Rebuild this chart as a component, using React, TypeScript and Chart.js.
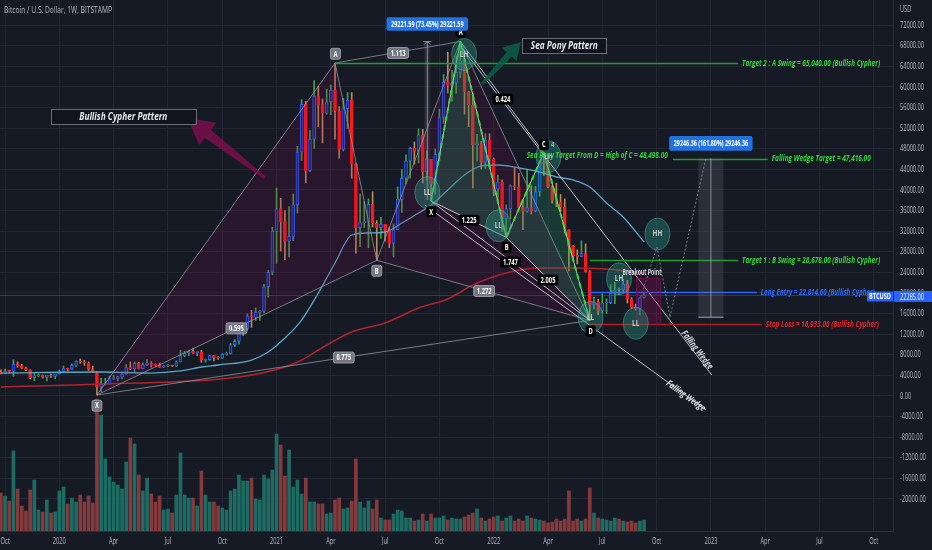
import { useEffect, useRef } from 'react';
import { Chart, registerables } from 'chart.js';

Chart.register(...registerables);

// ---------------- data (weekly candles, first week starts 2019-09-30) ----------------
const firstWeekStart = '2019-09-30';
const opens = [
  8050, 7870, 8280, 8220, 9550, 9200, 8800, 8500, 7050, 7400,
  7500, 7100, 7500, 7300, 7750, 8180, 8700, 8600, 9300, 10100,
  9900, 9700, 8550, 8050, 5350, 5850, 5900, 6900, 6920, 7150,
  7700, 8900, 8700, 9700, 8720, 9450, 9700, 9350, 9300, 9000,
  9250, 9300, 9150, 9950, 11100, 11600, 11850, 11650, 11700, 10250,
  10350, 11100, 10750, 10650, 11350, 11500, 13150, 13750, 15500, 16100,
  18400, 18200, 19100, 19250, 23800, 26450, 34000, 38200, 35800, 32200,
  33100, 38900, 48600, 57400, 45200, 51000, 59000, 57400, 55800, 57900,
  60000, 56200, 49100, 56600, 58200, 46400, 34700, 35600, 35800, 39000,
  35500, 34700, 35300, 34200, 31800, 34300, 39900, 43800, 47000, 49300,
  48800, 51800, 45000, 47300, 42800, 48200, 55000, 61500, 60900, 61300,
  63300, 65500, 59700, 57300, 50000, 50100, 46700, 50800, 47300, 41800,
  43100, 36300, 38200, 42400, 42200, 38400, 37700, 38400, 37800, 41300,
  46800, 46400, 42200, 39700, 39400, 38500, 34300, 31300, 29500, 29400,
  29900, 26600, 20500, 21000, 19300, 20800, 20850, 22600, 23300, 23200,
  24300, 21500, 20000, 19800, 21800,
];
const highs = [
  8500, 8650, 8420, 10350, 9950, 9500, 9000, 8500, 7800, 7750,
  7550, 7450, 7700, 7500, 8450, 9200, 8800, 9600, 10150, 10500,
  10250, 9950, 9200, 8200, 6950, 6950, 7300, 7450, 7300, 7800,
  9450, 9950, 9950, 9850, 9800, 10400, 10000, 9600, 9750, 9300,
  9450, 9350, 10150, 12100, 11900, 12100, 12500, 11800, 12100, 10500,
  11150, 11150, 10950, 11500, 11750, 13350, 14050, 15950, 16500, 18800,
  19450, 19900, 19400, 24250, 26800, 34750, 42000, 40100, 37850, 38600,
  40900, 49700, 58300, 58000, 52600, 61800, 60700, 58400, 60200, 61000,
  65040, 57000, 58500, 59600, 59600, 46500, 40900, 39500, 40000, 41300,
  36000, 36600, 35300, 34700, 35400, 42200, 45400, 48100, 49500, 50500,
  52900, 52800, 48800, 47300, 49200, 56500, 62900, 67000, 63700, 66300,
  69000, 66300, 59800, 59400, 51900, 50600, 52000, 52000, 47500, 44400,
  43500, 38900, 42600, 45800, 44700, 39800, 45400, 42400, 42300, 47000,
  48498, 47200, 42400, 42900, 40800, 40000, 34300, 31400, 30600, 32300,
  31700, 26800, 21900, 21500, 22500, 21600, 24200, 24600, 23600, 25200,
  25000, 21800, 20600, 21800, 22700,
];
const lows = [
  7750, 7850, 7900, 7300, 8950, 8700, 8350, 6800, 6500, 7200,
  6950, 6450, 7100, 6850, 7700, 8100, 8250, 8550, 9100, 9700,
  9300, 8400, 8000, 3850, 4450, 5700, 5850, 6750, 6450, 6800,
  7650, 8500, 8200, 8800, 8650, 9300, 9000, 9200, 8950, 8900,
  9050, 9050, 9100, 9950, 10900, 11100, 11500, 11100, 9900, 9900,
  10250, 10150, 10400, 10550, 11200, 11400, 12800, 13200, 14800, 15800,
  16300, 17600, 17600, 19000, 21900, 26000, 28100, 30400, 28800, 29300,
  32300, 37400, 47100, 43000, 45000, 49300, 53300, 50300, 55600, 55500,
  51000, 47500, 48800, 53000, 43800, 30000, 31200, 34700, 31000, 34800,
  28678, 32700, 32200, 31000, 29300, 34300, 37500, 42800, 43800, 46400,
  46600, 42900, 43400, 39600, 40800, 47000, 53900, 59500, 58000, 59500,
  62300, 55600, 53300, 42000, 47000, 45500, 45600, 45700, 40600, 39600,
  34000, 32900, 36300, 41700, 38000, 34300, 37500, 37200, 37600, 40500,
  44300, 42000, 39200, 38600, 37700, 33700, 26700, 28700, 28000, 29300,
  26500, 17600, 19700, 18600, 19000, 18900, 20700, 20700, 22400, 22700,
  20800, 19800, 19500, 18600, 21700,
];
const closes = [
  7870, 8280, 8220, 9550, 9200, 8800, 8500, 7050, 7400, 7500,
  7100, 7500, 7300, 7750, 8180, 8700, 8600, 9300, 10100, 9900,
  9700, 8550, 8050, 5350, 5850, 5900, 6900, 6920, 7150, 7700,
  8900, 8700, 9700, 8720, 9450, 9700, 9350, 9300, 9000, 9250,
  9300, 9150, 9950, 11100, 11600, 11850, 11650, 11700, 10250, 10350,
  11100, 10750, 10650, 11350, 11500, 13150, 13750, 15500, 16100, 18400,
  18200, 19100, 19250, 23800, 26450, 34000, 38200, 35800, 32200, 33100,
  38900, 48600, 57400, 45200, 51000, 59000, 57400, 55800, 57900, 60000,
  56200, 49100, 56600, 58200, 46400, 34700, 35600, 35800, 39000, 35500,
  34700, 35300, 34200, 31800, 34300, 39900, 43800, 47000, 49300, 48800,
  51800, 45000, 47300, 42800, 48200, 55000, 61500, 60900, 61300, 63300,
  65500, 59700, 57300, 50000, 50100, 46700, 50800, 47300, 41800, 43100,
  36300, 38200, 42400, 42200, 38400, 37700, 38400, 37800, 41300, 46800,
  46400, 42200, 39700, 39400, 38500, 34300, 31300, 29500, 29400, 29900,
  26600, 20500, 21000, 19300, 20800, 20850, 22600, 23300, 23200, 24300,
  21500, 20000, 19800, 21800, 22285,
];
// volume (thousands, read as bar heights)
const volumes = [
  38, 35, 30, 80, 42, 25, 20, 41, 51, 21,
  19, 31, 18, 19, 40, 44, 27, 33, 29, 36,
  29, 35, 28, 132, 116, 72, 54, 49, 46, 42,
  69, 93, 87, 56, 40, 53, 37, 29, 35, 21,
  22, 18, 36, 78, 36, 33, 33, 25, 60, 36,
  29, 29, 25, 23, 21, 40, 42, 56, 50, 50,
  53, 32, 31, 56, 52, 61, 97, 86, 55, 81,
  44, 51, 37, 53, 29, 29, 27, 27, 17, 18,
  31, 33, 22, 23, 30, 72, 29, 23, 30, 22,
  31, 13, 11, 11, 17, 21, 20, 13, 13, 10,
  11, 17, 10, 17, 13, 13, 15, 11, 13, 12,
  12, 14, 16, 18, 22, 13, 10, 12, 14, 15,
  10, 13, 15, 10, 12, 10, 15, 13, 12, 11,
  10, 8, 9, 12, 10, 12, 40, 10, 12, 10,
  12, 43, 18, 13, 12, 11, 10, 13, 12, 10,
  9, 10, 8, 10, 11,
];
// moving averages, read at sparse weeks
const blueMaWeeks = [0, 24, 36, 43, 48, 52, 60, 64, 68, 72, 76, 80, 84, 88, 92, 96, 100, 103, 107, 111, 115, 119, 124, 129, 133, 137, 141, 145, 149, 154];
const blueMaValues = [7900, 8090, 7900, 8280, 9010, 9380, 10300, 11780, 14360, 17670, 22650, 28180, 33340, 33710, 33890, 35550, 37400, 38870, 41640, 44400, 46060, 46240, 45690, 44950, 44030, 43480, 42190, 39240, 36660, 32050];
const redMaWeeks = [0, 24, 57, 68, 72, 76, 84, 92, 100, 107, 113, 121, 129, 137, 145, 154];
const redMaValues = [5330, 5880, 7170, 9010, 10300, 12150, 15460, 17120, 19890, 21550, 24130, 26340, 27260, 27260, 27070, 26340];

// axis ticks
const xTickWeeks = [1, 14, 27, 40, 53, 66, 79, 92, 105, 118, 131, 144, 157, 170, 183, 196, 209];
const xTickLabels = ['Oct', '2020', 'Apr', 'Jul', 'Oct', '2021', 'Apr', 'Jul', 'Oct', '2022', 'Apr', 'Jul', 'Oct', '2023', 'Apr', 'Jul', 'Oct'];
const yTickLabels = ['72000.00', '68000.00', '64000.00', '60000.00', '56000.00', '52000.00', '48000.00', '44000.00', '40000.00', '36000.00', '32000.00', '28000.00', '24000.00', '20000.00', '16000.00', '12000.00', '8000.00', '4000.00', '0.00', '-4000.00', '-8000.00', '-12000.00', '-16000.00', '-20000.00'];
const yTickPrices = [72008, 68212, 64415, 60618, 56821, 53025, 49228, 45431, 41634, 37838, 34041, 30244, 26448, 22651, 18854, 15058, 11261, 7464, 3668, -129, -3925, -7722, -11519, -15315];
const lastPrice = 22285;

// pattern points [week, price]: X, A, B, C, D
const cypherPoints = [[23, 3850], [80, 65040], [90, 28678], [110, 69000], [141, 17600]];
const seaPonyPoints = [[103, 39600], [110, 69000], [121, 32900], [130, 48498], [141, 17600]];
const cypherRatioLabels = [['0.595', 56.4, 16140], ['0.775', 82.1, 10760], ['1.113', 95.1, 66880], ['1.272', 115.7, 23020]];
const cypherPointLabels = [['X', 23.0, 1880], ['A', 80.1, 66730], ['B', 90.0, 26740]];
const seaRatioLabels = [['1.225', 112.1, 36050], ['1.747', 122.0, 28360], ['2.005', 131.0, 25050], ['0.424', 120.2, 58400]];
const seaPointLabels = [['X', 103.0, 37630], ['A', 110.1, 70700], ['B', 121.1, 31040], ['C', 130.0, 49980], ['D', 141.2, 15650]];
const swingCircles = [[102.1, 41170, 'LL'], [110.9, 66610, 'LH'], [119.1, 35040, 'LL'], [131.1, 47770, 'LH'], [141.2, 18140, 'LL'], [148.0, 25270, 'LH'], [152.0, 17070, 'LL'], [157.2, 33520, 'HH']];
const projectionPath = [[153.2, 21910], [157.1, 31130], [160.2, 18230], [168.8, 47520]];
const upperWedge = [[110.4, 67800], [170.2, 7540]];
const lowerWedge = [[101.5, 38870], [168.8, 1090]];
// horizontal levels: price, from week, to week, kind, text
const levelPrices = [65040, 47416, 28678, 22814.6, 16933];
const levelFrom = [80, 160.9, 141, 141, 141];
const levelTo = [176.5, 183.6, 176.5, 181, 182.2];
const levelKinds = ['green', 'green', 'green', 'blue', 'red'];
const levelTexts = [
  'Target 2 : A Swing = 65,040.00 (Bullish Cypher)',
  'Falling Wedge Target = 47,416.00',
  'Target 1 : B Swing = 28,678.00 (Bullish Cypher)',
  'Long Entry = 22,814.60 (Bullish Cypher)',
  'Stop Loss = 16,933.00 (Bullish Cypher)',
];
const levelTextWidths = [138, 99, 138, 114, 113];

// ---------------- styles ----------------
const BG = '#161a25';
const GRID = '#222633';
const AXIS_TEXT = '#b2b5be';
const FONT = '"Open Sans", "DejaVu Sans", sans-serif';
const UP_FILL = '#182a63';
const UP_BORDER = '#2962ff';
const UP_WICK = '#43a047';
const DN_FILL = '#ff1a1a';
const DN_WICK = '#b88a5c';
const VOL_UP = '#1e6b64';
const VOL_DN = '#843a3c';
const LEVEL_LINE = { green: '#1f9e2a', blue: '#2962ff', red: '#b71c1c' };
const LEVEL_TEXT = { green: '#36d43a', blue: '#2f6bff', red: '#e0262a' };

type Ctx = CanvasRenderingContext2D;

function textW(ctx: Ctx, s: string, x: number, y: number, font: string, color: string, width: number | null, align = 'left', sxFixed = 0) {
  ctx.save();
  ctx.font = font;
  const w = ctx.measureText(s).width;
  const sx = sxFixed ? sxFixed : width ? width / w : 1;
  const tw = w * sx;
  let x0 = x;
  if (align === 'center') x0 = x - tw / 2;
  else if (align === 'right') x0 = x - tw;
  ctx.fillStyle = color;
  ctx.textBaseline = 'middle';
  ctx.textAlign = 'left';
  ctx.translate(x0, y);
  ctx.scale(sx, 1);
  ctx.fillText(s, 0, 0);
  ctx.restore();
  return tw;
}

function rrect(ctx: Ctx, x: number, y: number, w: number, h: number, r: number) {
  ctx.beginPath();
  ctx.moveTo(x + r, y);
  ctx.lineTo(x + w - r, y);
  ctx.quadraticCurveTo(x + w, y, x + w, y + r);
  ctx.lineTo(x + w, y + h - r);
  ctx.quadraticCurveTo(x + w, y + h, x + w - r, y + h);
  ctx.lineTo(x + r, y + h);
  ctx.quadraticCurveTo(x, y + h, x, y + h - r);
  ctx.lineTo(x, y + r);
  ctx.quadraticCurveTo(x, y, x + r, y);
  ctx.closePath();
}

function seg(ctx: Ctx, a: number[], b: number[], color: string, width = 1, dash: number[] = []) {
  ctx.save();
  ctx.strokeStyle = color;
  ctx.lineWidth = width;
  ctx.setLineDash(dash);
  ctx.beginPath();
  ctx.moveTo(a[0], a[1]);
  ctx.lineTo(b[0], b[1]);
  ctx.stroke();
  ctx.restore();
}

function poly(ctx: Ctx, pts: number[][], fill: string) {
  ctx.save();
  ctx.fillStyle = fill;
  ctx.beginPath();
  pts.forEach((p, i) => (i ? ctx.lineTo(p[0], p[1]) : ctx.moveTo(p[0], p[1])));
  ctx.closePath();
  ctx.fill();
  ctx.restore();
}

function arrow(ctx: Ctx, t: number[], h: number[], tailW: number, shaftW: number, headW: number, headL: number, color: string) {
  const dx = h[0] - t[0], dy = h[1] - t[1];
  const L = Math.hypot(dx, dy);
  const ux = dx / L, uy = dy / L, nx = -uy, ny = ux;
  const bx = h[0] - ux * headL, by = h[1] - uy * headL;
  poly(ctx, [
    [t[0] + nx * tailW / 2, t[1] + ny * tailW / 2],
    [bx + nx * shaftW / 2, by + ny * shaftW / 2],
    [bx + nx * headW / 2, by + ny * headW / 2],
    [h[0], h[1]],
    [bx - nx * headW / 2, by - ny * headW / 2],
    [bx - nx * shaftW / 2, by - ny * shaftW / 2],
    [t[0] - nx * tailW / 2, t[1] - ny * tailW / 2],
  ], color);
}

function tag(ctx: Ctx, s: string, cx: number, cy: number, bg: string, fg: string, border: string | null) {
  const font = `bold 8px ${FONT}`;
  ctx.save();
  ctx.font = font;
  const sx = 0.72;
  const tw = ctx.measureText(s).width * sx;
  const w = tw + 6, h = 11;
  rrect(ctx, cx - w / 2, cy - h / 2, w, h, 2);
  ctx.fillStyle = bg;
  ctx.fill();
  if (border) {
    ctx.strokeStyle = border;
    ctx.lineWidth = 1;
    ctx.stroke();
  }
  ctx.restore();
  textW(ctx, s, cx, cy + 0.5, font, fg, null, 'center', sx);
}

const drawPlugin = {
  id: 'tvDrawings',
  beforeDraw(chart: any) {
    const c = chart.ctx;
    c.save();
    c.fillStyle = BG;
    c.fillRect(0, 0, chart.width, chart.height);
    c.restore();
  },
  afterDatasetsDraw(chart: any) {
    const ctx: Ctx = chart.ctx;
    const xs = chart.scales.x, ys = chart.scales.y, area = chart.chartArea;
    const X = (k: number) => xs.getPixelForValue(k);
    const Y = (p: number) => ys.getPixelForValue(p);
    const P = (a: any[]) => [X(a[0]), Y(a[1])];
    ctx.save();
    ctx.beginPath();
    ctx.rect(area.left, area.top, area.right - area.left, area.bottom - area.top);
    ctx.clip();

    // last price line
    seg(ctx, [area.left, Math.round(Y(lastPrice)) + 0.5], [area.right, Math.round(Y(lastPrice)) + 0.5], 'rgba(41,98,255,0.45)', 1);

    // Bullish Cypher pattern
    const c = cypherPoints.map(P);
    poly(ctx, [c[0], c[1], c[2]], 'rgba(136,14,79,0.16)');
    poly(ctx, [c[2], c[3], c[4]], 'rgba(136,14,79,0.16)');
    const cy = 'rgba(150,153,162,0.75)';
    [[0, 1], [1, 2], [2, 3], [3, 4], [0, 2], [1, 3], [2, 4], [0, 4]].forEach(([a, b]) => seg(ctx, c[a], c[b], cy, 1));

    // Sea Pony pattern
    const s = seaPonyPoints.map(P);
    poly(ctx, [s[0], s[1], s[2]], 'rgba(30,170,110,0.22)');
    poly(ctx, [s[2], s[3], s[4]], 'rgba(30,170,110,0.22)');
    const sw = 'rgba(215,218,225,0.85)';
    [[0, 1], [1, 2], [2, 3], [3, 4], [0, 2], [1, 3], [2, 4], [0, 4]].forEach(([a, b]) => seg(ctx, s[a], s[b], sw, 1));
    for (let i = 0; i < 4; i++) seg(ctx, s[i], s[i + 1], '#2fe02f', 2, [5, 4]);

    // falling wedge lines
    const uw = upperWedge.map(P), lw = lowerWedge.map(P);
    seg(ctx, uw[0], uw[1], 'rgba(215,218,225,0.85)', 1);
    seg(ctx, lw[0], lw[1], 'rgba(215,218,225,0.85)', 1);

    // horizontal levels
    levelPrices.forEach((p, i) => {
      const y = Math.round(Y(p)) + 0.5;
      const kind = levelKinds[i] as 'green' | 'blue' | 'red';
      seg(ctx, [X(levelFrom[i]), y], [X(levelTo[i]), y], LEVEL_LINE[kind], 1.5);
    });

    // measure tool 1
    const m1x = X(102.1);
    ctx.fillStyle = 'rgba(120,123,134,0.18)';
    ctx.fillRect(m1x - 3, Y(69000), 6, Y(39780) - Y(69000));
    seg(ctx, [m1x, Y(69000)], [m1x, Y(39780)], 'rgba(160,163,172,0.8)', 1);
    seg(ctx, [m1x - 4, Y(69000)], [m1x + 4, Y(69000)], 'rgba(160,163,172,0.8)', 1);
    seg(ctx, [m1x - 3, Y(69000) + 3], [m1x, Y(69000)], 'rgba(160,163,172,0.8)', 1);
    seg(ctx, [m1x + 3, Y(69000) + 3], [m1x, Y(69000)], 'rgba(160,163,172,0.8)', 1);

    // measure tool 2
    const m2l = X(167), m2r = X(173), m2c = X(170);
    ctx.fillStyle = 'rgba(120,123,134,0.22)';
    ctx.fillRect(m2l, Y(47416), m2r - m2l, Y(18170) - Y(47416));
    seg(ctx, [m2c, Y(47416)], [m2c, Y(18170)], 'rgba(190,193,200,0.6)', 1);
    seg(ctx, [m2l, Y(18170)], [m2r, Y(18170)], 'rgba(160,163,172,0.7)', 1.5);

    // projection path
    const pp = projectionPath.map(P);
    for (let i = 0; i < pp.length - 1; i++) seg(ctx, pp[i], pp[i + 1], 'rgba(150,153,162,0.8)', 1, [2, 2]);

    // breakout zone
    const bl = X(152.2), br = X(158.0), bt = Y(25360), bb = Y(16933);
    ctx.fillStyle = 'rgba(136,14,79,0.35)';
    ctx.fillRect(bl, bt, br - bl, bb - bt);
    ctx.strokeStyle = 'rgba(136,14,79,0.7)';
    ctx.lineWidth = 1;
    ctx.strokeRect(bl, bt, br - bl, bb - bt);

    // swing circles
    swingCircles.forEach(([k, p, lab]) => {
      const cx = X(k as number), cyy = Y(p as number);
      ctx.save();
      ctx.beginPath();
      ctx.ellipse(cx, cyy, 12.5, 16, 0, 0, Math.PI * 2);
      ctx.fillStyle = 'rgba(42,150,135,0.38)';
      ctx.fill();
      ctx.strokeStyle = 'rgba(90,180,170,0.45)';
      ctx.lineWidth = 1;
      ctx.stroke();
      ctx.restore();
      textW(ctx, lab as string, cx, cyy, `bold 8px ${FONT}`, 'rgba(215,218,225,0.9)', null, 'center', 0.8);
    });

    // arrows
    arrow(ctx, P([63.2, 43860]), P([44.6, 54920]), 3, 10, 28, 26, 'rgba(136,14,79,0.75)');
    arrow(ctx, P([115.2, 61170]), P([124.5, 68910]), 3, 7, 20, 17, 'rgba(10,95,72,0.85)');

    // level texts
    levelPrices.forEach((p, i) => {
      const kind = levelKinds[i] as 'green' | 'blue' | 'red';
      textW(ctx, levelTexts[i], X(levelTo[i]) + 4, Y(p), `italic bold 9px ${FONT}`, LEVEL_TEXT[kind], levelTextWidths[i]);
    });
    textW(ctx, 'Sea Pony Target From D = High of C = 48,498.00', X(125.9), Y(48080), `italic bold 9px ${FONT}`, LEVEL_TEXT.green, 141);

    // wedge labels
    const wedgeLabel = (seg2: number[][], at: number[]) => {
      const ang = Math.atan2(seg2[1][1] - seg2[0][1], seg2[1][0] - seg2[0][0]);
      const p = P(at);
      ctx.save();
      ctx.translate(p[0], p[1]);
      ctx.rotate(ang);
      textW(ctx, 'Falling Wedge', 0, 0, `italic bold 9px ${FONT}`, '#d8dbe2', 46, 'center');
      ctx.restore();
    };
    wedgeLabel(uw, [166.7, 12150]);
    wedgeLabel(lw, [164.0, 3670]);

    // breakout text
    textW(ctx, 'Breakout Point', X(153.5), Y(26470), `bold 8px ${FONT}`, '#d1d4dc', 39, 'center');

    // ratio & point tags
    cypherRatioLabels.forEach(([t, k, p]) => tag(ctx, t as string, X(k as number), Y(p as number), 'rgba(120,123,134,0.95)', '#ffffff', 'rgba(170,173,182,0.8)'));
    cypherPointLabels.forEach(([t, k, p]) => tag(ctx, t as string, X(k as number), Y(p as number), 'rgba(120,123,134,0.95)', '#ffffff', 'rgba(170,173,182,0.8)'));
    seaRatioLabels.forEach(([t, k, p]) => tag(ctx, t as string, X(k as number), Y(p as number), '#000000', '#ffffff', null));
    seaPointLabels.forEach(([t, k, p]) => tag(ctx, t as string, X(k as number), Y(p as number), '#000000', '#ffffff', null));
    textW(ctx, '4', X(132.1), Y(49930), `8px ${FONT}`, '#e0e3ea', null, 'center', 0.8);

    // measure boxes
    const blueBox = (txt: string, k: number, p: number, w: number, h: number, tw: number) => {
      const cx = X(k), cyy = Y(p);
      rrect(ctx, cx - w / 2, cyy - h / 2, w, h, 2);
      ctx.fillStyle = '#2272e0';
      ctx.fill();
      textW(ctx, txt, cx, cyy + 0.5, `bold 8px ${FONT}`, '#ffffff', tw, 'center');
    };
    blueBox('29221.59 (73.45%) 29221.59', 102.1, 72230, 81.6, 13.4, 72.6);
    blueBox('29246.36 (161.80%) 29246.36', 170.0, 50220, 83.4, 14.7, 74.3);

    // pattern title boxes
    const titleBox = (txt: string, k: number, p: number, w: number, h: number, tw: number) => {
      const cx = X(k), cyy = Y(p);
      ctx.fillStyle = '#11141c';
      ctx.fillRect(cx - w / 2, cyy - h / 2, w, h);
      ctx.strokeStyle = '#6b6e78';
      ctx.lineWidth = 1;
      ctx.strokeRect(Math.round(cx - w / 2) + 0.5, Math.round(cyy - h / 2) + 0.5, Math.round(w), Math.round(h));
      textW(ctx, txt, cx, cyy, `italic bold 10px ${FONT}`, '#e6e8ee', tw, 'center');
    };
    titleBox('Bullish Cypher Pattern', 29.3, 55140, 144.7, 15.3, 88);
    titleBox('Sea Pony Pattern', 134.9, 68170, 84.4, 15.4, 67);

    ctx.restore();
  },
  afterDraw(chart: any) {
    const ctx: Ctx = chart.ctx;
    const xs = chart.scales.x, ys = chart.scales.y, area = chart.chartArea;
    const axFont = `9px ${FONT}`;
    ctx.save();
    ctx.font = axFont;
    const sxY = 24 / ctx.measureText('72000.00').width;
    const sxX = 13 / ctx.measureText('2020').width;
    ctx.restore();
    yTickLabels.forEach((lab, i) => textW(ctx, lab, area.right + 7, ys.getPixelForValue(yTickPrices[i]), axFont, AXIS_TEXT, null, 'left', sxY));
    textW(ctx, 'USD', area.right + 7, 9, axFont, AXIS_TEXT, null, 'left', sxY);
    xTickLabels.forEach((lab, i) => textW(ctx, lab, xs.getPixelForValue(xTickWeeks[i]), area.bottom + 10, axFont, AXIS_TEXT, null, 'center', sxX));
    textW(ctx, 'Bitcoin / U.S. Dollar, 1W, BITSTAMP', 4, 10, axFont, AXIS_TEXT, 108);

    // last price boxes
    const py = ys.getPixelForValue(lastPrice) + 1.5;
    ctx.fillStyle = '#2962ff';
    ctx.fillRect(area.right - 26, py - 5, 26, 10);
    ctx.fillRect(area.right + 1, py - 5.5, chart.width - area.right - 1, 11);
    textW(ctx, 'BTCUSD', area.right - 13, py + 0.5, `bold 8px ${FONT}`, '#ffffff', 22, 'center');
    textW(ctx, '22285.00', area.right + 7, py + 0.5, axFont, '#ffffff', 24);
  },
};

export default function App() {
  const ref = useRef<HTMLCanvasElement>(null);
  useEffect(() => {
    const canvas = ref.current;
    if (!canvas) return;
    const weeks = opens.map((_, i) => i);
    const isUp = weeks.map((k) => closes[k] >= opens[k]);
    const chart = new Chart(canvas, {
      type: 'bar',
      data: {
        datasets: [
          {
            type: 'line',
            data: redMaWeeks.map((k, i) => ({ x: k, y: redMaValues[i] })),
            borderColor: '#b0242b',
            borderWidth: 1.5,
            pointRadius: 0,
            cubicInterpolationMode: 'monotone',
            order: 1,
          } as any,
          {
            type: 'line',
            data: blueMaWeeks.map((k, i) => ({ x: k, y: blueMaValues[i] })),
            borderColor: '#5aa6c6',
            borderWidth: 1.3,
            pointRadius: 0,
            cubicInterpolationMode: 'monotone',
            order: 2,
          } as any,
          {
            data: weeks.map((k) => ({ x: k, y: [opens[k], closes[k]] })),
            backgroundColor: isUp.map((u) => (u ? UP_FILL : DN_FILL)),
            borderColor: isUp.map((u) => (u ? UP_BORDER : DN_FILL)),
            borderWidth: 1,
            borderSkipped: false,
            barThickness: 3,
            minBarLength: 1,
            grouped: false,
            order: 3,
          } as any,
          {
            data: weeks.map((k) => ({ x: k, y: [lows[k], highs[k]] })),
            backgroundColor: isUp.map((u) => (u ? UP_WICK : DN_WICK)),
            barThickness: 1,
            grouped: false,
            order: 4,
          } as any,
          {
            data: weeks.map((k) => ({ x: k, y: volumes[k] })),
            backgroundColor: isUp.map((u) => (u ? VOL_UP : VOL_DN)),
            barThickness: 3,
            grouped: false,
            yAxisID: 'vol',
            order: 5,
          } as any,
        ],
      },
      options: {
        responsive: false,
        animation: false,
        devicePixelRatio: 1,
        layout: { padding: 0 },
        events: [],
        plugins: { legend: { display: false }, tooltip: { enabled: false }, title: { display: false } },
        scales: {
          x: {
            type: 'linear',
            min: -0.215,
            max: 213.6,
            offset: false,
            grid: { color: GRID, drawTicks: false, offset: false },
            border: { color: '#2a2e39' },
            ticks: { display: false },
            afterBuildTicks: (s: any) => { s.ticks = xTickWeeks.map((v) => ({ value: v })); },
            afterFit: (s: any) => { s.height = 19; s.paddingLeft = 0; s.paddingRight = 0; s.paddingTop = 0; s.paddingBottom = 0; },
          },
          y: {
            type: 'linear',
            position: 'right',
            min: -21213,
            max: 76650,
            grid: { color: GRID, drawTicks: false },
            border: { color: '#2a2e39' },
            ticks: { display: false },
            afterBuildTicks: (s: any) => { s.ticks = yTickPrices.map((v) => ({ value: v })); },
            afterFit: (s: any) => { s.width = 39; s.paddingLeft = 0; s.paddingRight = 0; s.paddingTop = 0; s.paddingBottom = 0; },
          },
          vol: { type: 'linear', display: false, min: 0, max: 531 },
        },
      } as any,
      plugins: [drawPlugin as any],
    });
    return () => chart.destroy();
  }, []);
  return (
    <div style={{ position: 'fixed', left: 0, top: 0, width: 932, height: 550, background: BG }} data-first-week={firstWeekStart}>
      <canvas ref={ref} width={932} height={550} style={{ display: 'block', width: 932, height: 550 }} />
    </div>
  );
}
